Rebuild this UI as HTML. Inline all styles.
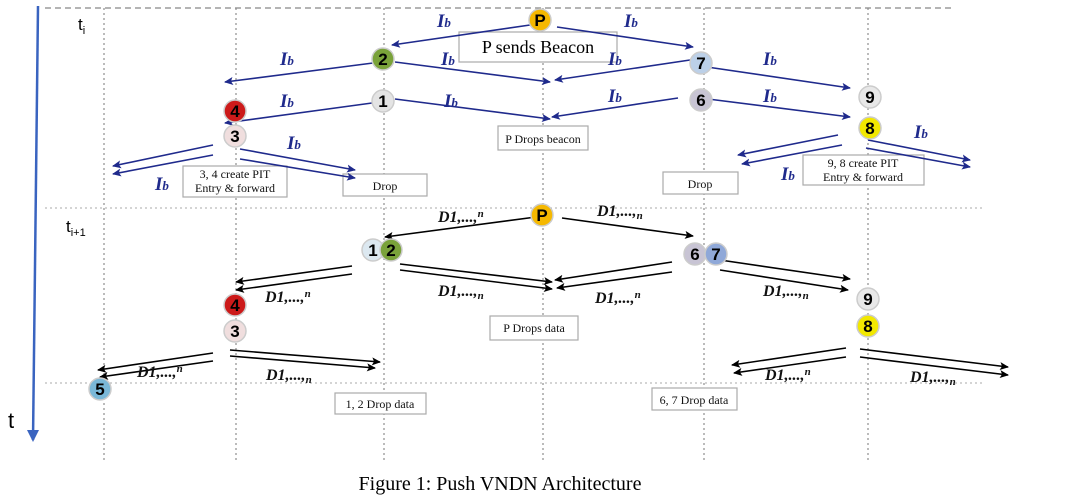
<!DOCTYPE html>
<html><head><meta charset="utf-8"><style>
html,body{margin:0;padding:0;background:#fff;width:1087px;height:504px;overflow:hidden}
svg{display:block}
.ib{font-family:"Liberation Serif",serif;font-style:italic;font-weight:bold;fill:#1f2a8c;font-size:19px}
.ib tspan{font-size:13px}
.d{font-family:"Liberation Serif",serif;font-style:italic;font-weight:bold;fill:#111;font-size:16px}
.d tspan{font-size:11px}
.bx{fill:#fff;stroke:#aaa;stroke-width:1.2}
.bt{font-family:"Liberation Serif",serif;font-size:12px;fill:#111;text-anchor:middle}
.n{font-family:"Liberation Sans",sans-serif;font-weight:bold;font-size:17px;text-anchor:middle;fill:#000}
.a{stroke:#1f2a8c;stroke-width:1.6;fill:none;marker-end:url(#ab)}
.k{stroke:#000;stroke-width:1.6;fill:none;marker-end:url(#ak)}
</style></head><body>
<svg width="1087" height="504" viewBox="0 0 1087 504">
<defs>
<marker id="ab" markerWidth="10" markerHeight="8" refX="8" refY="4" orient="auto" markerUnits="userSpaceOnUse"><path d="M0,0 L9,4 L0,8 L2,4z" fill="#1f2a8c"/></marker>
<marker id="ak" markerWidth="10" markerHeight="8" refX="8" refY="4" orient="auto" markerUnits="userSpaceOnUse"><path d="M0,0 L9,4 L0,8 L2,4z" fill="#000"/></marker>
<marker id="ax" markerWidth="12" markerHeight="12" refX="6" refY="10" orient="0" markerUnits="userSpaceOnUse"><path d="M0,0 L6,12 L12,0z" fill="#3a64c0"/></marker>
</defs>
<g stroke="#777" stroke-width="1" stroke-dasharray="2,3">
<line x1="104" y1="8" x2="104" y2="462"/><line x1="236" y1="8" x2="236" y2="462"/>
<line x1="384" y1="8" x2="384" y2="462"/><line x1="543" y1="8" x2="543" y2="462"/>
<line x1="704" y1="8" x2="704" y2="462"/><line x1="868" y1="8" x2="868" y2="462"/>
<line x1="45" y1="208" x2="985" y2="208" stroke="#aaa"/>
<line x1="45" y1="383" x2="985" y2="383" stroke="#aaa"/>
</g>
<line x1="45" y1="8" x2="955" y2="8" stroke="#888" stroke-width="1.2" stroke-dasharray="6,4"/>
<line x1="38" y1="6" x2="33" y2="440" stroke="#3a64c0" stroke-width="2.5" marker-end="url(#ax)"/>
<text x="8" y="428" font-family="Liberation Sans,sans-serif" font-size="22">t</text>
<text x="78" y="30" font-family="Liberation Sans,sans-serif" font-size="17">t<tspan font-size="11" dy="4">i</tspan></text>
<text x="66" y="232" font-family="Liberation Sans,sans-serif" font-size="17">t<tspan font-size="11" dy="4">i+1</tspan></text>
<rect class="bx" x="459" y="32" width="158" height="30"/><text x="538" y="53" font-family="Liberation Serif,serif" font-size="18" text-anchor="middle">P sends Beacon</text>
<rect class="bx" x="498" y="126" width="90" height="24"/><text class="bt" x="543" y="143">P Drops beacon</text>
<rect class="bx" x="183" y="166" width="104" height="31"/><text class="bt" x="235" y="178">3, 4 create PIT</text><text class="bt" x="235" y="192">Entry &amp; forward</text>
<rect class="bx" x="343" y="174" width="84" height="22"/><text class="bt" x="385" y="190">Drop</text>
<rect class="bx" x="663" y="172" width="75" height="22"/><text class="bt" x="700" y="188">Drop</text>
<rect class="bx" x="803" y="155" width="121" height="30"/><text class="bt" x="863" y="167">9, 8 create PIT</text><text class="bt" x="863" y="181">Entry &amp; forward</text>
<rect class="bx" x="490" y="316" width="88" height="24"/><text class="bt" x="534" y="332">P Drops data</text>
<rect class="bx" x="335" y="393" width="91" height="21"/><text class="bt" x="380" y="408">1, 2 Drop data</text>
<rect class="bx" x="652" y="388" width="85" height="22"/><text class="bt" x="694" y="404">6, 7 Drop data</text>
<path class="a" d="M530,25 L392,45"/><path class="a" d="M557,27 L693,47"/>
<path class="a" d="M373,63 L225,82"/><path class="a" d="M395,62 L550,82"/>
<path class="a" d="M690,60 L555,80"/><path class="a" d="M707,67 L850,88"/>
<path class="a" d="M372,103 L225,123"/><path class="a" d="M395,99 L550,119"/>
<path class="a" d="M678,98 L552,117"/><path class="a" d="M708,99 L850,117"/>
<path class="a" d="M213,145 L113,166"/><path class="a" d="M213,155 L113,174"/>
<path class="a" d="M240,149 L355,170"/><path class="a" d="M240,159 L355,178"/>
<path class="a" d="M838,135 L738,155"/><path class="a" d="M842,145 L742,164"/>
<path class="a" d="M868,140 L970,160"/><path class="a" d="M866,148 L970,167"/>
<g class="ib">
<text x="437" y="27">I<tspan>b</tspan></text><text x="624" y="27">I<tspan>b</tspan></text>
<text x="280" y="65">I<tspan>b</tspan></text><text x="441" y="65">I<tspan>b</tspan></text>
<text x="608" y="65">I<tspan>b</tspan></text><text x="763" y="65">I<tspan>b</tspan></text>
<text x="280" y="107">I<tspan>b</tspan></text><text x="444" y="107">I<tspan>b</tspan></text>
<text x="608" y="102">I<tspan>b</tspan></text><text x="763" y="102">I<tspan>b</tspan></text>
<text x="287" y="149">I<tspan>b</tspan></text><text x="155" y="190">I<tspan>b</tspan></text>
<text x="914" y="138">I<tspan>b</tspan></text><text x="781" y="180">I<tspan>b</tspan></text>
</g>
<path class="k" d="M536,217 L385,237"/><path class="k" d="M562,218 L693,236"/>
<path class="k" d="M352,266 L236,282"/><path class="k" d="M352,274 L236,290"/>
<path class="k" d="M400,264 L552,282"/><path class="k" d="M400,270 L552,289"/>
<path class="k" d="M672,262 L555,280"/><path class="k" d="M672,272 L557,288"/>
<path class="k" d="M720,260 L850,279"/><path class="k" d="M720,270 L848,290"/>
<path class="k" d="M213,353 L98,370"/><path class="k" d="M213,361 L100,377"/>
<path class="k" d="M230,350 L380,362"/><path class="k" d="M230,356 L375,368"/>
<path class="k" d="M846,348 L732,365"/><path class="k" d="M846,357 L734,373"/>
<path class="k" d="M860,349 L1008,367"/><path class="k" d="M860,357 L1008,375"/>
<g class="d">
<text x="438" y="222">D1,...,<tspan dy="-5">n</tspan></text>
<text x="597" y="216">D1,...,<tspan dy="3">n</tspan></text>
<text x="265" y="302">D1,...,<tspan dy="-5">n</tspan></text>
<text x="438" y="296">D1,...,<tspan dy="3">n</tspan></text>
<text x="595" y="303">D1,...,<tspan dy="-5">n</tspan></text>
<text x="763" y="296">D1,...,<tspan dy="3">n</tspan></text>
<text x="137" y="377">D1,...,<tspan dy="-5">n</tspan></text>
<text x="266" y="380">D1,...,<tspan dy="3">n</tspan></text>
<text x="765" y="380">D1,...,<tspan dy="-5">n</tspan></text>
<text x="910" y="382">D1,...,<tspan dy="3">n</tspan></text>
</g>
<g stroke="#ccc" stroke-width="1.5">
<circle cx="540" cy="20" r="11" fill="#f5b800"/>
<circle cx="383" cy="59" r="11" fill="#7aa23a"/>
<circle cx="701" cy="63" r="11" fill="#bcd0e8"/>
<circle cx="383" cy="101" r="11" fill="#e4e4e4"/>
<circle cx="701" cy="100" r="11" fill="#c8c4d4"/>
<circle cx="235" cy="111" r="11" fill="#cc1a1a"/>
<circle cx="235" cy="136" r="11" fill="#f0dede"/>
<circle cx="870" cy="97" r="11" fill="#e8e8e8"/>
<circle cx="870" cy="128" r="11" fill="#f2e800"/>
<circle cx="542" cy="215" r="11" fill="#f5b800"/>
<circle cx="373" cy="250" r="11" fill="#dce8f0"/>
<circle cx="391" cy="250" r="11" fill="#7aa23a"/>
<circle cx="695" cy="254" r="11" fill="#c8c4d4"/>
<circle cx="716" cy="254" r="11" fill="#8fa8d8"/>
<circle cx="235" cy="305" r="11" fill="#cc1a1a"/>
<circle cx="235" cy="331" r="11" fill="#f0dede"/>
<circle cx="868" cy="299" r="11" fill="#e8e8e8"/>
<circle cx="868" cy="326" r="11" fill="#f2e800"/>
<circle cx="100" cy="389" r="11" fill="#7ab8d8"/>
</g>
<g class="n">
<text x="540" y="26">P</text><text x="383" y="65">2</text><text x="701" y="69">7</text>
<text x="383" y="107">1</text><text x="701" y="106">6</text><text x="235" y="117">4</text>
<text x="235" y="142">3</text><text x="870" y="103">9</text><text x="870" y="134">8</text>
<text x="542" y="221">P</text><text x="373" y="256">1</text><text x="391" y="256">2</text>
<text x="695" y="260">6</text><text x="716" y="260">7</text><text x="235" y="311">4</text>
<text x="235" y="337">3</text><text x="868" y="305">9</text><text x="868" y="332">8</text>
<text x="100" y="395">5</text>
</g>
<text x="500" y="490" font-family="Liberation Serif,serif" font-size="20" text-anchor="middle">Figure 1: Push VNDN Architecture</text>
</svg>
</body></html>
